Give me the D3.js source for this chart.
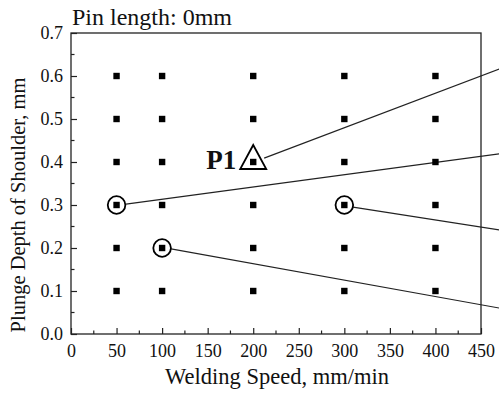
<!DOCTYPE html>
<html>
<head>
<meta charset="UTF-8">
<title>Pin length: 0mm</title>
<script src="https://cdn.jsdelivr.net/npm/d3@7"></script>
<style>
  body { margin: 0; padding: 0; background: #fff; }
  text { font-family: "Liberation Serif", "DejaVu Serif", serif; fill: #111; }
</style>
</head>
<body>
<script>
  // welding conditions tested
  var speeds = [50, 100, 200, 300, 400];
  var depths = [0.1, 0.2, 0.3, 0.4, 0.5, 0.6];
  var xTicks = [0, 50, 100, 150, 200, 250, 300, 350, 400, 450];
  var yTicks = [0.0, 0.1, 0.2, 0.3, 0.4, 0.5, 0.6, 0.7];

  // highlighted points and the leader lines going off to the right
  var circled = [[50, 0.3], [300, 0.3], [100, 0.2]];
  var triangled = [[200, 0.4]];
  var leaders = [
    [[212, 0.409], [470, 0.616]],
    [[60.4, 0.302], [470, 0.419]],
    [[309.5, 0.295], [470, 0.242]],
    [[109.8, 0.198], [470, 0.0605]]
  ];

  var W = 499, H = 398;
  var m = { left: 71, right: 18, top: 33, bottom: 64 };

  var svg = d3.select("body").append("svg")
      .attr("width", W)
      .attr("height", H);

  var x = d3.scaleLinear().domain([0, 450]).range([m.left, W - m.right]);
  var y = d3.scaleLinear().domain([0, 0.7]).range([H - m.bottom, m.top]);

  var points = [];
  speeds.forEach(function(s) {
    depths.forEach(function(d) { points.push([s, d]); });
  });

  // leader lines first (drawn under the frame)
  svg.selectAll("line.leader").data(leaders).enter().append("line")
      .attr("class", "leader")
      .attr("x1", function(d) { return x(d[0][0]); })
      .attr("y1", function(d) { return y(d[0][1]); })
      .attr("x2", function(d) { return x(d[1][0]); })
      .attr("y2", function(d) { return y(d[1][1]); })
      .attr("stroke", "#222")
      .attr("stroke-width", 1.1);

  // frame
  svg.append("rect")
      .attr("x", x(0)).attr("y", y(0.7))
      .attr("width", x(450) - x(0)).attr("height", y(0) - y(0.7))
      .attr("fill", "none").attr("stroke", "#222").attr("stroke-width", 1.3);

  // axes with inward ticks
  var xAxis = d3.axisBottom(x).tickValues(xTicks).tickSize(-6).tickPadding(10)
      .tickFormat(d3.format("d"));
  var gx = svg.append("g").attr("transform", "translate(0," + y(0) + ")").call(xAxis);
  var yAxis = d3.axisLeft(y).tickValues(yTicks).tickSize(-6).tickPadding(8)
      .tickFormat(d3.format(".1f"));
  var gy = svg.append("g").attr("transform", "translate(" + x(0) + ",0)").call(yAxis);

  [gx, gy].forEach(function(g) {
    g.select(".domain").remove();
    g.selectAll(".tick line").attr("stroke", "#222").attr("stroke-width", 1.2);
    g.selectAll(".tick text").style("font-size", "18px")
      .style("font-family", "'Liberation Serif', serif").attr("fill", "#111");
  });

  // minor ticks
  var xMinor = d3.range(25, 450, 50);
  var yMinor = d3.range(0.05, 0.7, 0.1);
  svg.selectAll("line.xminor").data(xMinor).enter().append("line")
      .attr("x1", function(d) { return x(d); }).attr("x2", function(d) { return x(d); })
      .attr("y1", y(0)).attr("y2", y(0) - 3.5)
      .attr("stroke", "#222").attr("stroke-width", 1.2);
  svg.selectAll("line.yminor").data(yMinor).enter().append("line")
      .attr("y1", function(d) { return y(d); }).attr("y2", function(d) { return y(d); })
      .attr("x1", x(0)).attr("x2", x(0) + 3.5)
      .attr("stroke", "#222").attr("stroke-width", 1.2);

  // square markers
  svg.selectAll("rect.pt").data(points).enter().append("rect")
      .attr("class", "pt")
      .attr("x", function(d) { return x(d[0]) - 3.2; })
      .attr("y", function(d) { return y(d[1]) - 3.2; })
      .attr("width", 6.4).attr("height", 6.4)
      .attr("fill", "#000");

  svg.selectAll("circle.hl").data(circled).enter().append("circle")
      .attr("cx", function(d) { return x(d[0]); })
      .attr("cy", function(d) { return y(d[1]); })
      .attr("r", 8.8)
      .attr("fill", "none").attr("stroke", "#000").attr("stroke-width", 1.8);

  svg.selectAll("path.tri").data(triangled).enter().append("path")
      .attr("d", function(d) {
        var cx = x(d[0]), cy = y(d[1]) - 4;
        return "M" + cx + "," + (cy - 13) + "L" + (cx + 13) + "," + (cy + 11) +
               "L" + (cx - 13) + "," + (cy + 11) + "Z";
      })
      .attr("fill", "none").attr("stroke", "#000").attr("stroke-width", 1.8);

  svg.append("text")
      .attr("x", x(200) - 17).attr("y", y(0.4) + 7)
      .attr("text-anchor", "end")
      .style("font-size", "27px").style("font-weight", "bold")
      .text("P1");

  // titles
  svg.append("text")
      .attr("x", x(0) + 1).attr("y", 25)
      .style("font-size", "24px")
      .text("Pin length: 0mm");

  svg.append("text")
      .attr("x", 277).attr("y", 384)
      .attr("text-anchor", "middle")
      .style("font-size", "22.5px")
      .text("Welding Speed, mm/min");

  svg.append("text")
      .attr("transform", "translate(25,205) rotate(-90)")
      .attr("text-anchor", "middle")
      .style("font-size", "20.5px")
      .text("Plunge Depth of Shoulder, mm");
</script>
</body>
</html>
